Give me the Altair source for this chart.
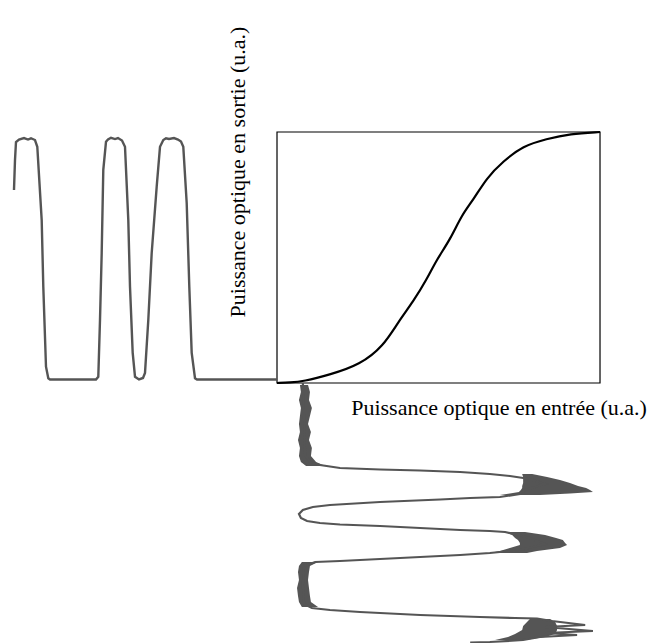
import altair as alt
import pandas as pd

# Transfer function (input power -> output power), normalised u.a.
tf_in = [0, 0.04, 0.081, 0.164, 0.257, 0.329, 0.376, 0.422, 0.463, 0.494, 0.536,
         0.572, 0.608, 0.649, 0.700, 0.762, 0.834, 0.907, 1.0]
tf_out = [0, 0.002, 0.006, 0.033, 0.073, 0.146, 0.245, 0.325, 0.411, 0.491, 0.571,
          0.670, 0.730, 0.817, 0.883, 0.945, 0.972, 0.993, 1.0]

# Output signal (time measured away from the transfer box)
t_out = [0, 0.80, 0.82, 0.853, 0.877, 0.903, 0.937, 0.96, 0.99, 1.03, 1.08, 1.11, 1.137,
         1.17, 1.203, 1.253, 1.287, 1.32, 1.34, 1.38, 1.42, 1.443, 1.47, 1.487, 1.52,
         1.55, 1.59, 1.62, 1.66, 1.69, 1.71, 1.737, 1.753, 1.77, 1.787, 1.81, 2.27,
         2.287, 2.31, 2.337, 2.353, 2.397, 2.42, 2.46, 2.49, 2.53, 2.58, 2.61, 2.62, 2.63]
p_out = [0.014, 0.014, 0.019, 0.12, 0.384, 0.717, 0.941, 0.962, 0.97, 0.976, 0.972,
         0.975, 0.968, 0.941, 0.782, 0.518, 0.251, 0.04, 0.02, 0.014, 0.025, 0.12, 0.384,
         0.649, 0.941, 0.966, 0.976, 0.972, 0.977, 0.97, 0.961, 0.849, 0.518, 0.251,
         0.025, 0.014, 0.014, 0.019, 0.065, 0.384, 0.649, 0.941, 0.968, 0.975, 0.97,
         0.976, 0.97, 0.96, 0.888, 0.769]

# Input signal (time measured downward from the transfer box), mean trace
t_in = [0.00, 0.37, 0.72, 0.79, 0.82, 0.85, 0.865, 0.875, 0.89, 0.91, 0.93, 0.96, 1.01,
        1.07, 1.11, 1.14, 1.15, 1.165, 1.19, 1.22, 1.24, 1.27, 1.31, 1.35, 1.38, 1.40,
        1.415, 1.43, 1.45, 1.47, 1.48, 1.49, 1.55, 1.61, 1.67, 1.69, 1.70, 1.72, 1.74,
        1.76, 1.78, 1.79, 1.83, 2.02, 2.21, 2.25, 2.27, 2.29, 2.32, 2.34, 2.35, 2.355,
        2.38, 2.42, 2.44, 2.48, 2.50, 2.52, 2.54, 2.57, 2.59, 2.595]
p_in = [0.080, 0.084, 0.087, 0.102, 0.133, 0.195, 0.319, 0.443, 0.567, 0.659, 0.721,
        0.783, 0.830, 0.768, 0.752, 0.690, 0.598, 0.505, 0.319, 0.164, 0.111, 0.080,
        0.068, 0.074, 0.093, 0.133, 0.195, 0.319, 0.443, 0.567, 0.659, 0.706, 0.783,
        0.830, 0.752, 0.690, 0.659, 0.567, 0.443, 0.319, 0.195, 0.118, 0.084, 0.080,
        0.084, 0.108, 0.164, 0.257, 0.443, 0.628, 0.737, 0.805, 0.851, 0.954, 0.830,
        0.978, 0.830, 0.929, 0.814, 0.762, 0.659, 0.598]

# Noise envelopes of the input signal (time, low edge, high edge)
env_id = (["b1"] * 12 + ["p1"] * 10 + ["p2"] * 9 + ["p3"] * 7 + ["b3"] * 8)
env_t = [0.02, 0.09, 0.17, 0.25, 0.33, 0.41, 0.49, 0.57, 0.65, 0.73, 0.79, 0.83,
         0.91, 0.94, 0.97, 1.00, 1.03, 1.05, 1.07, 1.09, 1.105, 1.12,
         1.49, 1.52, 1.55, 1.57, 1.60, 1.62, 1.65, 1.68, 1.70,
         2.36, 2.39, 2.43, 2.47, 2.51, 2.54, 2.57,
         1.79, 1.83, 1.89, 1.97, 2.05, 2.13, 2.19, 2.24]
env_lo = [0.071, 0.074, 0.068, 0.074, 0.071, 0.068, 0.071, 0.065, 0.071, 0.068, 0.074, 0.090,
          0.759, 0.762, 0.762, 0.762, 0.759, 0.759, 0.755, 0.749, 0.721, 0.690,
          0.706, 0.728, 0.737, 0.746, 0.752, 0.752, 0.721, 0.690, 0.659,
          0.783, 0.774, 0.762, 0.759, 0.737, 0.715, 0.675,
          0.077, 0.068, 0.065, 0.068, 0.062, 0.065, 0.068, 0.077]
env_hi = [0.096, 0.102, 0.099, 0.108, 0.102, 0.096, 0.105, 0.099, 0.108, 0.105, 0.121, 0.149,
          0.790, 0.836, 0.876, 0.907, 0.932, 0.957, 0.969, 0.978, 0.907, 0.814,
          0.768, 0.830, 0.864, 0.885, 0.892, 0.898, 0.876, 0.805, 0.774,
          0.845, 0.861, 0.867, 0.867, 0.861, 0.830, 0.768,
          0.127, 0.102, 0.099, 0.096, 0.099, 0.102, 0.105, 0.127]

label_out = "Puissance optique en sortie (u.a.)"
label_in = "Puissance optique en entrée (u.a.)"

# scale factors turning time into the shared drawing frame
KX = 0.3096
KY = 0.3984

tf_df = pd.DataFrame({"x": tf_in, "y": tf_out, "i": range(len(tf_in))})
out_df = pd.DataFrame({"t": t_out, "p": p_out, "i": range(len(t_out))})
in_df = pd.DataFrame({"t": t_in, "p": p_in, "i": range(len(t_in))})
env_df = pd.DataFrame({"g": env_id, "t": env_t, "lo": env_lo, "hi": env_hi})
box_df = pd.DataFrame({"x0": [0.0], "x1": [1.0], "y0": [0.0], "y1": [1.0]})

xs = alt.Scale(domain=[-0.8328, 1.195], nice=False, zero=False)
ys = alt.Scale(domain=[-1.0319, 1.494], nice=False, zero=False)
GRAY = "#555555"

box = alt.Chart(box_df).mark_rect(fillOpacity=0, stroke="black", strokeWidth=1.2).encode(
    x=alt.X("x0:Q", scale=xs, axis=None), x2="x1:Q",
    y=alt.Y("y0:Q", scale=ys, axis=None), y2="y1:Q")

tf = alt.Chart(tf_df).mark_line(color="black", strokeWidth=2.2,
                                interpolate="basis").encode(
    x=alt.X("x:Q", scale=xs, axis=None),
    y=alt.Y("y:Q", scale=ys, axis=None),
    order="i:Q")

outl = alt.Chart(out_df).transform_calculate(xx=f"-datum.t*{KX}").mark_line(
    color=GRAY, strokeWidth=2.4).encode(
    x=alt.X("xx:Q", scale=xs, axis=None),
    y=alt.Y("p:Q", scale=ys, axis=None),
    order="i:Q")

inl = alt.Chart(in_df).transform_calculate(yy=f"-datum.t*{KY}").mark_line(
    color=GRAY, strokeWidth=2.2).encode(
    x=alt.X("p:Q", scale=xs, axis=None),
    y=alt.Y("yy:Q", scale=ys, axis=None),
    order="i:Q")

env = alt.Chart(env_df).transform_calculate(yy=f"-datum.t*{KY}").mark_area(
    color=GRAY, orient="horizontal", opacity=1).encode(
    y=alt.Y("yy:Q", scale=ys, axis=None),
    x=alt.X("lo:Q", scale=xs, axis=None), x2="hi:Q",
    detail="g:N")

lab_df = pd.DataFrame({"a": [label_out], "b": [label_in]})
t_out_lab = alt.Chart(lab_df).mark_text(
    font="Liberation Serif", fontSize=22, angle=270, align="center",
    baseline="alphabetic", color="black").encode(
    x=alt.value(237), y=alt.value(164), text="a:N")
t_in_lab = alt.Chart(lab_df).mark_text(
    font="Liberation Serif", fontSize=22, align="center",
    baseline="alphabetic", color="black").encode(
    x=alt.value(491), y=alt.value(407), text="b:N")

chart = alt.layer(box, env, outl, inl, tf, t_out_lab, t_in_lab).properties(
    width=655, height=634, padding=0
).configure_view(stroke="transparent")

chart.save("out.html", embed_options={"renderer": "svg", "actions": False})
